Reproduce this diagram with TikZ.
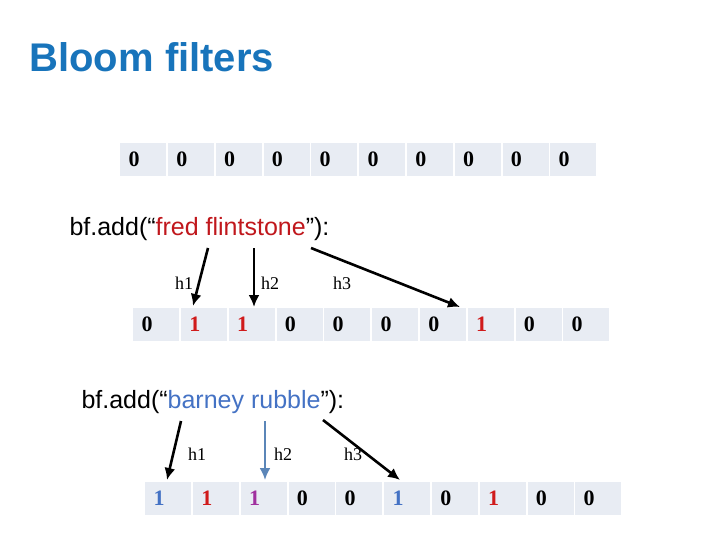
\documentclass[tikz,border=0pt]{standalone}
\usepackage{fontspec}
\usetikzlibrary{arrows.meta}
\setmainfont{Liberation Serif}
\newfontfamily\arialf{Liberation Sans}
\definecolor{titleblue}{HTML}{1874BB}
\definecolor{cellbg}{HTML}{E8ECF3}
\definecolor{fredred}{HTML}{C0171C}
\definecolor{barneyblue}{HTML}{4472C4}
\definecolor{steel}{HTML}{5B86B8}
\definecolor{mag}{HTML}{A0309F}
\definecolor{bitred}{HTML}{D01B1B}
\begin{document}
\begin{tikzpicture}[x=1pt,y=-1pt,
  cell/.style={fill=cellbg,minimum width=46pt,minimum height=33pt,inner sep=0pt,anchor=north west},
  digit/.style={font=\bfseries\fontsize{22}{22}\selectfont},
  hl/.style={font=\fontsize{18}{18}\selectfont},
  arr/.style={-{Latex[length=12pt,width=11pt]},line width=2.6pt},
  code/.style={font=\arialf\fontsize{25}{25}\selectfont,anchor=west}]
\useasboundingbox (0,0) rectangle (720,540);
\node[anchor=west,font=\arialf\bfseries\fontsize{40}{40}\selectfont,text=titleblue] (title) at (26,57) {Bloom filters};
% rows
\foreach \r/\x/\y/\vals in {a/120/143/{0,0,0,0,0,0,0,0,0,0},
                            b/133/308/{0,{\color{bitred}1},{\color{bitred}1},0,0,0,0,{\color{bitred}1},0,0},
                            c/145/482/{{\color{barneyblue}1},{\color{bitred}1},{\color{mag}1},0,0,{\color{barneyblue}1},0,{\color{bitred}1},0,0}}{
  \foreach \v [count=\i from 0] in \vals {
    \node[cell] (\r\i) at ({\x+47.8*\i},\y) {};
    \node[digit,anchor=west] (\r d\i) at ({\x+47.8*\i+5},{\y+16.5}) {\v};
  }
}
\node[code] (fred) at (66,229) {bf.add(“{\color{fredred}fred flintstone}”):};
\node[code] (barney) at (78,402) {bf.add(“{\color{barneyblue}barney rubble}”):};
\coordinate (f1) at (208,248); \coordinate (f1e) at (193,306);
\coordinate (f2) at (254,248); \coordinate (f2e) at (254,307);
\coordinate (f3) at (311,248); \coordinate (f3e) at (460,307);
\draw[arr] (f1) -- (f1e);
\draw[arr] (f2) -- (f2e);
\draw[arr] (f3) -- (f3e);
\node[hl] (fh1) at (184,283) {h1};
\node[hl] (fh2) at (270,283) {h2};
\node[hl] (fh3) at (342,283) {h3};
\coordinate (b1) at (181,421); \coordinate (b1e) at (167,480);
\coordinate (b2) at (265,421); \coordinate (b2e) at (265,480);
\coordinate (b3) at (323,420); \coordinate (b3e) at (400,480);
\node[hl] (bh1) at (197,454) {h1};
\node[hl] (bh2) at (283,454) {h2};
\node[hl] (bh3) at (353,454) {h3};
\draw[arr] (b1) -- (b1e);
\draw[arr,color=steel,line width=2.2pt] (b2) -- (b2e);
\draw[arr] (b3) -- (b3e);
\end{tikzpicture}
\end{document}
